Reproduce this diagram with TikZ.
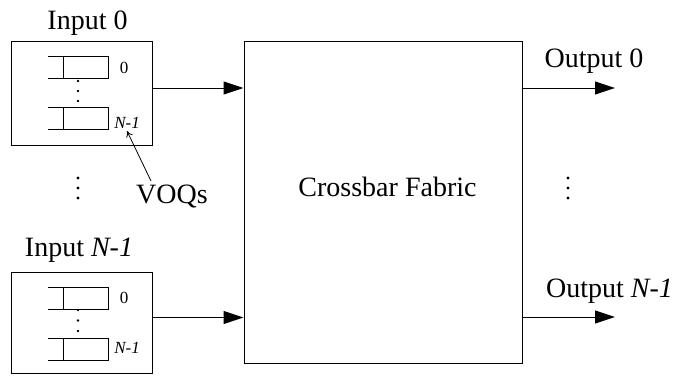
\documentclass[tikz,border=0pt]{standalone}
\usepackage{fontspec}
\setmainfont{Liberation Serif}
\usetikzlibrary{arrows.meta,calc}

\tikzset{
  box/.style={draw, line width=1pt, inner sep=0pt},
  big/.style={font=\fontsize{28}{32}\selectfont, inner sep=0pt},
  small/.style={font=\fontsize{17}{20}\selectfont, inner sep=0pt},
  arr/.style={line width=1pt, -{Triangle[length=20pt,width=13pt]}},
  thin arrow/.style={line width=0.8pt, -{To[length=6pt,width=7pt]}},
  dot/.style={fill, circle, inner sep=0pt, minimum size=3.4pt},
  sdot/.style={fill, circle, inner sep=0pt, minimum size=2.6pt},
}

% one virtual output queue, left open, drawn with its top-left corner at (#1,#2)
\newcommand{\voqueue}[2]{%
  \draw[line width=1pt] (#1,#2) -- ++(60,0) -- ++(0,22) -- ++(-60,0);
  \draw[line width=1pt] (#1+15,#2) -- ++(0,22);
}

\begin{document}
\begin{tikzpicture}[x=1pt,y=-1pt]
\useasboundingbox (0,0) rectangle (699,375);

% input ports
\node[box, minimum width=141pt, minimum height=104pt] (in0) at (81.5,93) {};
\node[box, minimum width=141pt, minimum height=101pt] (inN) at (81.5,322.5) {};

% crossbar
\node[box, minimum width=278pt, minimum height=322pt] (xbar) at (383,202) {};
\node[big, anchor=base] (xlabel) at (387.5,196) {Crossbar Fabric};

% titles
\node[big, anchor=base] (t0) at (87.5,29) {Input 0};
\node[big, anchor=base] (tN) at (79,256) {Input \textit{N-1}};
\node[big, anchor=base] (o0) at (594,67) {Output 0};
\node[big, anchor=base] (oN) at (609.5,297) {Output \textit{N-1}};

% queues of input 0
\voqueue{48}{56}
\voqueue{48}{107}
\node[sdot] (a1) at (78,81) {};
\node[sdot] (a2) at (78,91) {};
\node[sdot] (a3) at (78,101) {};
\node[small, anchor=base] (q00) at (124,73) {0};
\node[small, anchor=base] (q0N) at (127,128) {\textit{N-1}};

% queues of input N-1
\voqueue{48}{287}
\voqueue{48}{338}
\node[sdot] (b1) at (78,310) {};
\node[sdot] (b2) at (78,320.5) {};
\node[sdot] (b3) at (78,331) {};
\node[small, anchor=base] (qN0) at (124,303) {0};
\node[small, anchor=base] (qNN) at (127,353) {\textit{N-1}};

% VOQs label
\node[big, anchor=base] (voq) at (172,203) {VOQs};
\coordinate (voqtail) at (151,181);
\coordinate (voqtip) at (127,131);
\draw[thin arrow] (voqtail) -- (voqtip);

% vertical ellipses
\node[dot] (l1) at (78,178) {};
\node[dot] (l2) at (78,188) {};
\node[dot] (l3) at (78,198) {};
\node[dot] (r1) at (568,178) {};
\node[dot] (r2) at (568,188) {};
\node[dot] (r3) at (568,198) {};

% connections
\draw[arr] ([yshift=5pt]in0.east) -- ([yshift=5pt]in0.east -| xbar.west);
\draw[arr] ([yshift=5pt]inN.east) -- ([yshift=5pt]inN.east -| xbar.west);
\coordinate (out0) at (615,88);
\coordinate (outN) at (615,317);
\draw[arr] (out0 -| xbar.east) -- (out0);
\draw[arr] (outN -| xbar.east) -- (outN);
\end{tikzpicture}
\end{document}
